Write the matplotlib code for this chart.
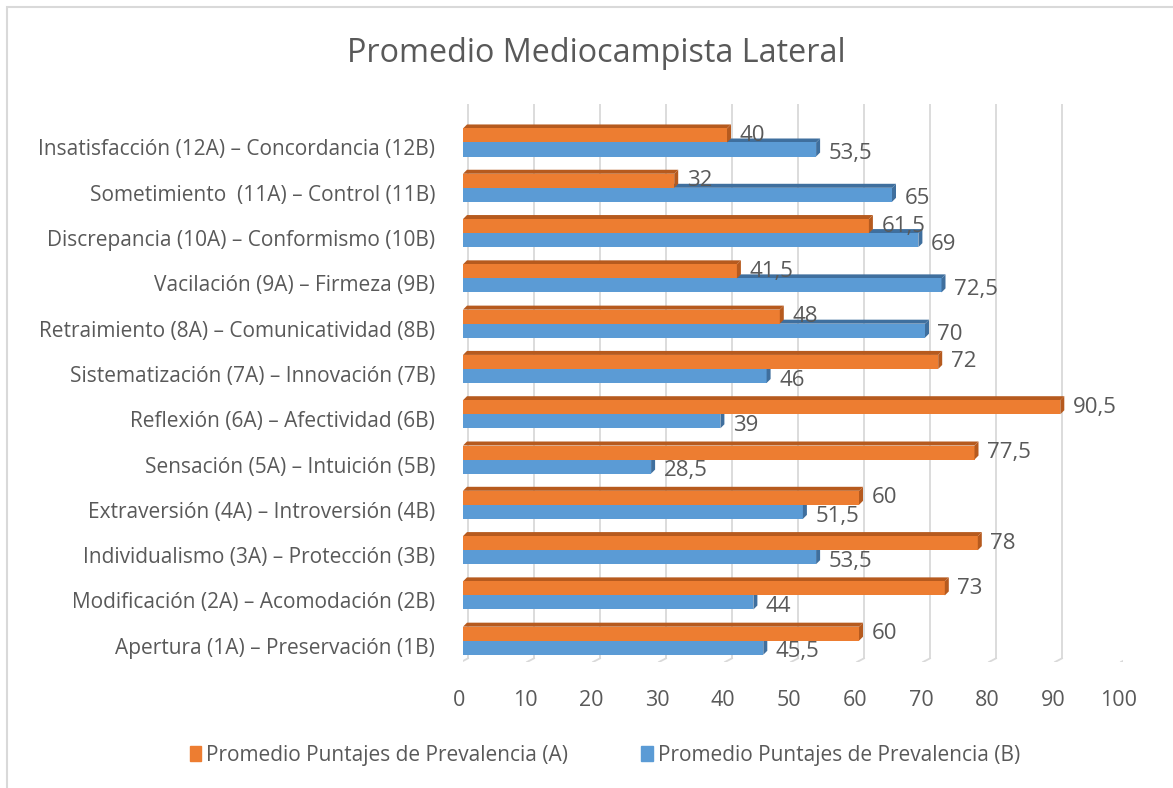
import matplotlib
matplotlib.use("Agg")
import matplotlib.pyplot as plt
from matplotlib.patches import Polygon, Rectangle
import matplotlib.transforms as mtransforms

plt.rcParams['font.family'] = ['Open Sans', 'DejaVu Sans']

categories = [
    "Apertura (1A) – Preservación (1B)",
    "Modificación (2A) – Acomodación (2B)",
    "Individualismo (3A) – Protección (3B)",
    "Extraversión (4A) – Introversión (4B)",
    "Sensación (5A) – Intuición (5B)",
    "Reflexión (6A) – Afectividad (6B)",
    "Sistematización (7A) – Innovación (7B)",
    "Retraimiento (8A) – Comunicatividad (8B)",
    "Vacilación (9A) – Firmeza (9B)",
    "Discrepancia (10A) – Conformismo (10B)",
    "Sometimiento  (11A) – Control (11B)",
    "Insatisfacción (12A) – Concordancia (12B)",
]
serie_a = [60, 73, 78, 60, 77.5, 90.5, 72, 48, 41.5, 61.5, 32, 40]
serie_b = [45.5, 44, 53.5, 51.5, 28.5, 39, 46, 70, 72.5, 69, 65, 53.5]
ticks = [0, 10, 20, 30, 40, 50, 60, 70, 80, 90, 100]

title = "Promedio Mediocampista Lateral"
label_a = "Promedio Puntajes de Prevalencia (A)"
label_b = "Promedio Puntajes de Prevalencia (B)"

orange, orange_dark = "#ED7D31", "#B65A1E"
blue, blue_dark = "#5B9BD5", "#3F6F9E"
grid_col = "#D9D9D9"
text_col = "#595959"

W, H = 1173, 788
fig = plt.figure(figsize=(W / 100, H / 100), dpi=100)

# chart frame (right and bottom edges fall outside the picture)
fig.patches.append(Rectangle((7 / W, -0.2), 1.2, 1.2 - 7 / H, transform=fig.transFigure,
                             fill=False, edgecolor=grid_col, linewidth=1.5))

ax_l, ax_r, ax_t, ax_b = 463, 1123, 104, 662
ax = fig.add_axes([ax_l / W, 1 - ax_b / H, (ax_r - ax_l) / W, (ax_b - ax_t) / H])
ymin, ymax = -0.47, 11.85
ax.set_xlim(0, 100)
ax.set_ylim(ymin, ymax)
for s in ax.spines.values():
    s.set_visible(False)

# pixel -> data conversions for 3d depth
px_x = 100 / (ax_r - ax_l)
px_y = (ymax - ymin) / (ax_b - ax_t)
depth = 4
dx, dy = depth * px_x, depth * px_y

# back plane gridlines with floor slant
gx = 5 * px_x
for t in ticks:
    ax.plot([t + gx, t + gx], [ymin + 0.08, ymax], color=grid_col, lw=1.3, zorder=0)
    ax.plot([t + gx, t - 0.3], [ymin + 0.08, ymin], color=grid_col, lw=1.3, zorder=0)

h = 0.31
y = list(range(len(categories)))
off = 0.155


def bar3d(yc, w, face, dark):
    ax.barh(yc, w, height=h, color=face, zorder=3)
    top = yc + h / 2
    ax.add_patch(Polygon([(0, top), (w, top), (w + dx, top + dy), (dx, top + dy)],
                         closed=True, facecolor=dark, edgecolor="none", zorder=2))
    ax.add_patch(Polygon([(w, top), (w + dx, top + dy), (w + dx, top + dy - h), (w, top - h)],
                         closed=True, facecolor=dark, edgecolor="none", zorder=3))


for i in y:
    bar3d(i - off, serie_b[i], blue, blue_dark)
    bar3d(i + off, serie_a[i], orange, orange_dark)


def fmt(v):
    return (f"{v:g}").replace(".", ",")


for i in y:
    ax.annotate(fmt(serie_a[i]), (serie_a[i], i + off), xytext=(9, 0), textcoords="offset points",
                va="center", ha="left", fontsize=16, color=text_col, zorder=5)
    ax.annotate(fmt(serie_b[i]), (serie_b[i], i - off), xytext=(9, -3), textcoords="offset points",
                va="center", ha="left", fontsize=16, color=text_col, zorder=5)

ax.set_yticks(y)
ax.set_yticklabels(categories, fontsize=15, color=text_col)
ax.set_xticks(ticks)
ax.set_xticklabels([str(t) for t in ticks], fontsize=15.5, color=text_col)
ax.tick_params(axis="y", length=0, pad=20)
ax.tick_params(axis="x", length=0, pad=20)
shift = mtransforms.ScaledTranslation(-4 / 100, 0, fig.dpi_scale_trans)
for lab in ax.get_xticklabels():
    lab.set_transform(lab.get_transform() + shift)
yshift = mtransforms.ScaledTranslation(0, -5 / 100, fig.dpi_scale_trans)
for lab in ax.get_yticklabels():
    lab.set_transform(lab.get_transform() + yshift)

fig.text(596 / W, 1 - 53 / H, title, ha="center", va="center", fontsize=23.3, color=text_col)

handles = [Rectangle((0, 0), 1, 1, color=orange), Rectangle((0, 0), 1, 1, color=blue)]
fig.legend(handles, [label_a, label_b], loc="center", bbox_to_anchor=(605 / W, 1 - 755 / H),
           ncol=2, frameon=False, fontsize=15, handlelength=0.55, handleheight=0.7,
           handletextpad=0.25, columnspacing=3.5, labelcolor=text_col)

fig.savefig("out.png", dpi=100)
